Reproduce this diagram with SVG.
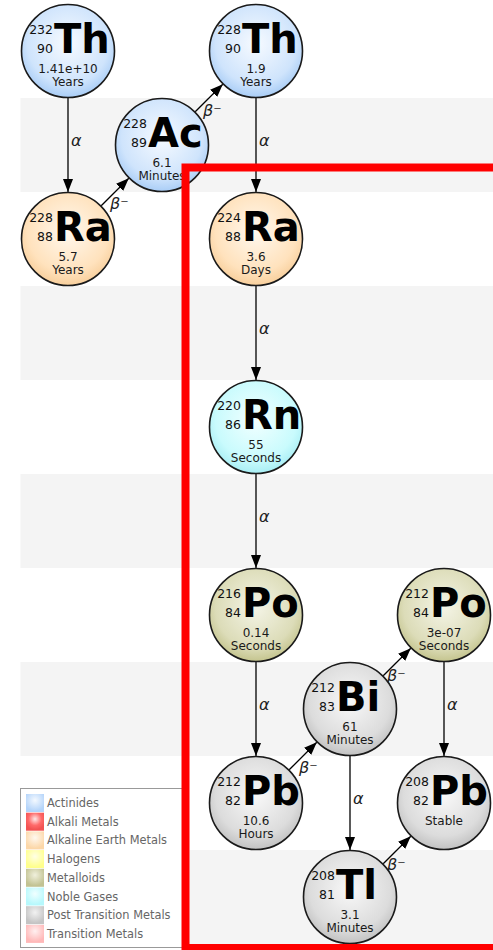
<svg xmlns="http://www.w3.org/2000/svg" width="493" height="950" viewBox="0 0 493 950">
  <style>
    text { font-family: "DejaVu Sans", "Liberation Sans", sans-serif; }
    .band { fill: #f4f4f4; }
    .disc { stroke: #1a1a1a; stroke-width: 1.6; }
    .num { font-size: 12.5px; fill: #111; text-anchor: end; }
    .sym { font-size: 40px; font-weight: bold; fill: #000; }
    .life { font-size: 12px; fill: #1a1a1a; text-anchor: middle; }
    .edge { stroke: #000; stroke-width: 1.3; fill: none; marker-end: url(#ah); }
    .lbl { font-size: 16px; font-style: italic; fill: #222; }
    .leg { font-size: 11.4px; fill: #666; }
    .frame { fill: none; stroke: #ff0000; stroke-width: 8; }
  </style>
  <defs>
    <marker id="ah" markerUnits="userSpaceOnUse" markerWidth="14" markerHeight="12" refX="13" refY="5" orient="auto">
      <path d="M0,0 L13,5 L0,10 z" fill="#000"/>
    </marker>
    <radialGradient id="g-act" cx="50%" cy="42%" r="58%">
      <stop offset="0" stop-color="#f6faff"/>
      <stop offset="0.75" stop-color="#cfe4fc"/>
      <stop offset="1" stop-color="#a9cdf6"/>
    </radialGradient>
    <radialGradient id="g-ae" cx="50%" cy="42%" r="58%">
      <stop offset="0" stop-color="#fff8ee"/>
      <stop offset="0.75" stop-color="#ffe2bd"/>
      <stop offset="1" stop-color="#f8cf9c"/>
    </radialGradient>
    <radialGradient id="g-ng" cx="50%" cy="42%" r="58%">
      <stop offset="0" stop-color="#f2ffff"/>
      <stop offset="0.75" stop-color="#c9fbfd"/>
      <stop offset="1" stop-color="#a8eef4"/>
    </radialGradient>
    <radialGradient id="g-met" cx="50%" cy="42%" r="58%">
      <stop offset="0" stop-color="#f4f4e6"/>
      <stop offset="0.75" stop-color="#dcdcb8"/>
      <stop offset="1" stop-color="#c4c48e"/>
    </radialGradient>
    <radialGradient id="g-ptm" cx="50%" cy="42%" r="58%">
      <stop offset="0" stop-color="#f8f8f8"/>
      <stop offset="0.75" stop-color="#dcdcdc"/>
      <stop offset="1" stop-color="#c2c2c2"/>
    </radialGradient>
    <radialGradient id="s-red" cx="50%" cy="35%" r="60%">
      <stop offset="0" stop-color="#ffe8e8"/>
      <stop offset="0.6" stop-color="#ff6a6a"/>
      <stop offset="1" stop-color="#f25252"/>
    </radialGradient>
    <radialGradient id="s-act" cx="50%" cy="35%" r="60%">
      <stop offset="0" stop-color="#f4f9ff"/>
      <stop offset="1" stop-color="#b4d4fa"/>
    </radialGradient>
    <radialGradient id="s-ae" cx="50%" cy="35%" r="60%">
      <stop offset="0" stop-color="#fff8ef"/>
      <stop offset="1" stop-color="#fcd7a8"/>
    </radialGradient>
    <radialGradient id="s-hal" cx="50%" cy="35%" r="60%">
      <stop offset="0" stop-color="#ffffe6"/>
      <stop offset="1" stop-color="#ffff8c"/>
    </radialGradient>
    <radialGradient id="s-met" cx="50%" cy="35%" r="60%">
      <stop offset="0" stop-color="#f0f0dc"/>
      <stop offset="1" stop-color="#c2c292"/>
    </radialGradient>
    <radialGradient id="s-ng" cx="50%" cy="35%" r="60%">
      <stop offset="0" stop-color="#f0ffff"/>
      <stop offset="1" stop-color="#b6f8fc"/>
    </radialGradient>
    <radialGradient id="s-ptm" cx="50%" cy="35%" r="60%">
      <stop offset="0" stop-color="#f2f2f2"/>
      <stop offset="1" stop-color="#c4c4c4"/>
    </radialGradient>
    <radialGradient id="s-tm" cx="50%" cy="35%" r="60%">
      <stop offset="0" stop-color="#fff0f0"/>
      <stop offset="1" stop-color="#ffb8b8"/>
    </radialGradient>
  </defs>

  <rect width="493" height="950" fill="#fff"/>

  <!-- alternating row bands -->
  <g id="bands">
    <rect class="band" x="20.5" y="98" width="473" height="94"/>
    <rect class="band" x="20.5" y="286" width="473" height="94"/>
    <rect class="band" x="20.5" y="474" width="473" height="94"/>
    <rect class="band" x="20.5" y="662" width="473" height="94"/>
    <rect class="band" x="20.5" y="850" width="473" height="94"/>
  </g>

  <!-- decay arrows -->
  <g id="connectors">
    <line class="edge" x1="68" y1="98" x2="68" y2="192"/>
    <text class="lbl" x="71" y="146">α</text>
    <line class="edge" x1="101.2" y1="205.8" x2="128.8" y2="178.2"/>
    <text class="lbl" x="110" y="209">β⁻</text>
    <line class="edge" x1="195.2" y1="111.8" x2="222.8" y2="84.2"/>
    <text class="lbl" x="203" y="116">β⁻</text>
    <line class="edge" x1="256" y1="98" x2="256" y2="192"/>
    <text class="lbl" x="259" y="146">α</text>
    <line class="edge" x1="256" y1="286" x2="256" y2="380"/>
    <text class="lbl" x="259" y="334">α</text>
    <line class="edge" x1="256" y1="474" x2="256" y2="568"/>
    <text class="lbl" x="259" y="522">α</text>
    <line class="edge" x1="256" y1="662" x2="256" y2="756"/>
    <text class="lbl" x="259" y="710">α</text>
    <line class="edge" x1="289.2" y1="769.8" x2="316.8" y2="742.2"/>
    <text class="lbl" x="299" y="773">β⁻</text>
    <line class="edge" x1="383.2" y1="675.8" x2="410.8" y2="648.2"/>
    <text class="lbl" x="387" y="681">β⁻</text>
    <line class="edge" x1="444" y1="662" x2="444" y2="756"/>
    <text class="lbl" x="447" y="710">α</text>
    <line class="edge" x1="350" y1="756" x2="350" y2="850"/>
    <text class="lbl" x="353" y="804">α</text>
    <line class="edge" x1="383.2" y1="863.8" x2="410.8" y2="836.2"/>
    <text class="lbl" x="387" y="870">β⁻</text>
  </g>

  <!-- nuclides -->
  <g id="th232">
    <circle class="disc" cx="68" cy="51" r="46.5" fill="url(#g-act)"/>
    <text class="num" x="53" y="34">232</text>
    <text class="num" x="53" y="53">90</text>
    <text class="sym" x="54" y="53">Th</text>
    <text class="life" x="68" y="73">1.41e+10</text>
    <text class="life" x="68" y="86">Years</text>
  </g>
  <g id="ra228">
    <circle class="disc" cx="68" cy="239" r="46.5" fill="url(#g-ae)"/>
    <text class="num" x="53" y="222">228</text>
    <text class="num" x="53" y="241">88</text>
    <text class="sym" x="54" y="241">Ra</text>
    <text class="life" x="68" y="261">5.7</text>
    <text class="life" x="68" y="274">Years</text>
  </g>
  <g id="ac228">
    <circle class="disc" cx="162" cy="145" r="46.5" fill="url(#g-act)"/>
    <text class="num" x="147" y="128">228</text>
    <text class="num" x="147" y="147">89</text>
    <text class="sym" x="148" y="147">Ac</text>
    <text class="life" x="162" y="167">6.1</text>
    <text class="life" x="162" y="180">Minutes</text>
  </g>
  <g id="th228">
    <circle class="disc" cx="256" cy="51" r="46.5" fill="url(#g-act)"/>
    <text class="num" x="241" y="34">228</text>
    <text class="num" x="241" y="53">90</text>
    <text class="sym" x="242" y="53">Th</text>
    <text class="life" x="256" y="73">1.9</text>
    <text class="life" x="256" y="86">Years</text>
  </g>
  <g id="ra224">
    <circle class="disc" cx="256" cy="239" r="46.5" fill="url(#g-ae)"/>
    <text class="num" x="241" y="222">224</text>
    <text class="num" x="241" y="241">88</text>
    <text class="sym" x="242" y="241">Ra</text>
    <text class="life" x="256" y="261">3.6</text>
    <text class="life" x="256" y="274">Days</text>
  </g>
  <g id="rn220">
    <circle class="disc" cx="256" cy="427" r="46.5" fill="url(#g-ng)"/>
    <text class="num" x="241" y="410">220</text>
    <text class="num" x="241" y="429">86</text>
    <text class="sym" x="242" y="429">Rn</text>
    <text class="life" x="256" y="449">55</text>
    <text class="life" x="256" y="462">Seconds</text>
  </g>
  <g id="po216">
    <circle class="disc" cx="256" cy="615" r="46.5" fill="url(#g-met)"/>
    <text class="num" x="241" y="598">216</text>
    <text class="num" x="241" y="617">84</text>
    <text class="sym" x="242" y="617">Po</text>
    <text class="life" x="256" y="637">0.14</text>
    <text class="life" x="256" y="650">Seconds</text>
  </g>
  <g id="po212">
    <circle class="disc" cx="444" cy="615" r="46.5" fill="url(#g-met)"/>
    <text class="num" x="429" y="598">212</text>
    <text class="num" x="429" y="617">84</text>
    <text class="sym" x="430" y="617">Po</text>
    <text class="life" x="444" y="637">3e-07</text>
    <text class="life" x="444" y="650">Seconds</text>
  </g>
  <g id="bi212">
    <circle class="disc" cx="350" cy="709" r="46.5" fill="url(#g-ptm)"/>
    <text class="num" x="335" y="692">212</text>
    <text class="num" x="335" y="711">83</text>
    <text class="sym" x="336" y="711">Bi</text>
    <text class="life" x="350" y="731">61</text>
    <text class="life" x="350" y="744">Minutes</text>
  </g>
  <g id="pb212">
    <circle class="disc" cx="256" cy="803" r="46.5" fill="url(#g-ptm)"/>
    <text class="num" x="241" y="786">212</text>
    <text class="num" x="241" y="805">82</text>
    <text class="sym" x="242" y="805">Pb</text>
    <text class="life" x="256" y="825">10.6</text>
    <text class="life" x="256" y="838">Hours</text>
  </g>
  <g id="pb208">
    <circle class="disc" cx="444" cy="803" r="46.5" fill="url(#g-ptm)"/>
    <text class="num" x="429" y="786">208</text>
    <text class="num" x="429" y="805">82</text>
    <text class="sym" x="430" y="805">Pb</text>
    <text class="life" x="444" y="825">Stable</text>
  </g>
  <g id="tl208">
    <circle class="disc" cx="350" cy="897" r="46.5" fill="url(#g-ptm)"/>
    <text class="num" x="335" y="880">208</text>
    <text class="num" x="335" y="899">81</text>
    <text class="sym" x="336" y="899">Tl</text>
    <text class="life" x="350" y="919">3.1</text>
    <text class="life" x="350" y="932">Minutes</text>
  </g>

  <!-- colour key -->
  <g id="legend">
    <rect x="20.5" y="788.5" width="165" height="159" fill="#fff" stroke="#999" stroke-width="1"/>
    <rect x="26" y="794" width="18" height="18" fill="url(#s-act)"/>
    <text class="leg" x="47" y="807">Actinides</text>
    <rect x="26" y="812.7" width="18" height="18" fill="url(#s-red)"/>
    <text class="leg" x="47" y="825.7">Alkali Metals</text>
    <rect x="26" y="831.4" width="18" height="18" fill="url(#s-ae)"/>
    <text class="leg" x="47" y="844.4">Alkaline Earth Metals</text>
    <rect x="26" y="850.1" width="18" height="18" fill="url(#s-hal)"/>
    <text class="leg" x="47" y="863.1">Halogens</text>
    <rect x="26" y="868.8" width="18" height="18" fill="url(#s-met)"/>
    <text class="leg" x="47" y="881.8">Metalloids</text>
    <rect x="26" y="887.5" width="18" height="18" fill="url(#s-ng)"/>
    <text class="leg" x="47" y="900.5">Noble Gases</text>
    <rect x="26" y="906.2" width="18" height="18" fill="url(#s-ptm)"/>
    <text class="leg" x="47" y="919.2">Post Transition Metals</text>
    <rect x="26" y="924.9" width="18" height="18" fill="url(#s-tm)"/>
    <text class="leg" x="47" y="937.9">Transition Metals</text>
  </g>

  <!-- highlight frame -->
  <rect id="frame" class="frame" x="185.5" y="167.5" width="400" height="780.5"/>
</svg>
